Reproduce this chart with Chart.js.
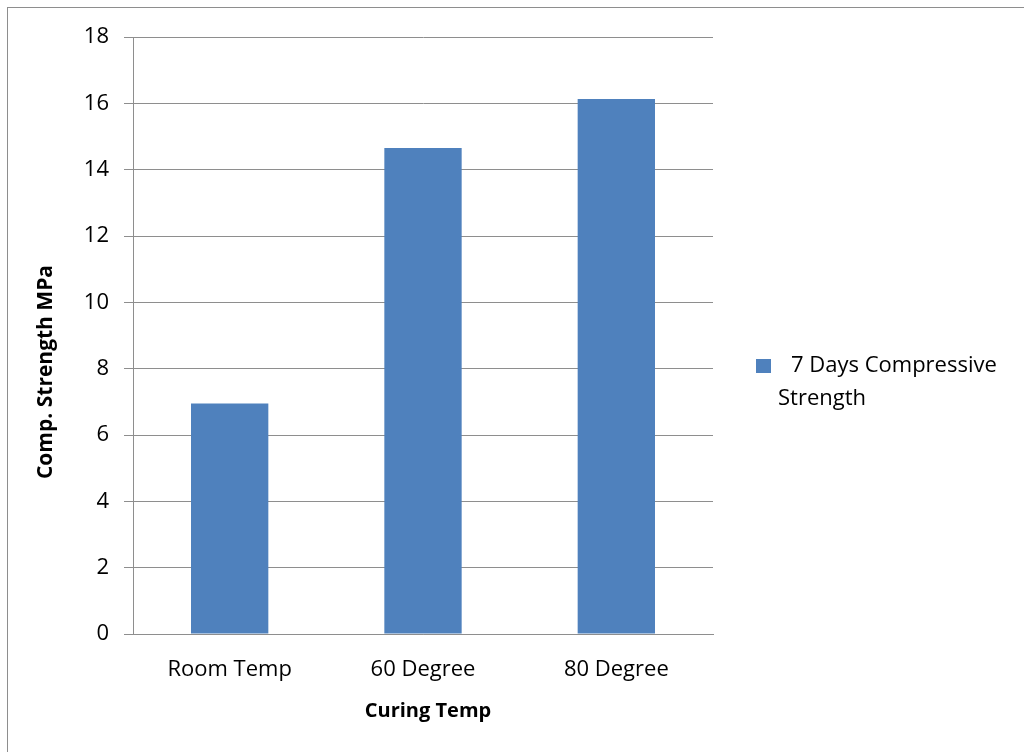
<!DOCTYPE html>
<html>
<head>
<meta charset="utf-8">
<script src="https://cdn.jsdelivr.net/npm/chart.js@4.4.0/dist/chart.umd.min.js"></script>
<style>
  html, body { margin: 0; padding: 0; background: #fff; }
  #wrap { width: 1024px; height: 752px; }
</style>
</head>
<body>
<div id="wrap"><canvas id="chart" width="1024" height="752"></canvas></div>
<script>
// data
const categories = ['Room Temp', '60 Degree', '80 Degree'];
const strength7d = [6.95, 14.65, 16.13];
const seriesLabel = '7 Days Compressive Strength';
const yTitle = 'Comp. Strength MPa';
const xTitle = 'Curing Temp';

const FONT = '"Open Sans", Lato, sans-serif';
const GRID = '#8e8e8e';

// outer frame + axis titles + wrapped legend
const extras = {
  id: 'extras',
  afterDraw(chart) {
    const ctx = chart.ctx;
    ctx.save();
    ctx.strokeStyle = GRID;
    ctx.lineWidth = 1;
    ctx.strokeRect(7.5, 7.5, 1040, 800);

    ctx.fillStyle = '#000';
    ctx.textAlign = 'center';
    ctx.textBaseline = 'middle';
    ctx.save();
    ctx.font = 'bold 21px ' + FONT;
    ctx.translate(46, 372);
    ctx.rotate(-Math.PI / 2);
    ctx.fillText(yTitle, 0, 0);
    ctx.restore();
    ctx.font = 'bold 20px ' + FONT;
    ctx.fillText(xTitle, 428, 711);

    // legend
    const ds = chart.data.datasets[0];
    ctx.fillStyle = ds.backgroundColor;
    ctx.fillRect(756, 359, 15, 14);
    ctx.fillStyle = '#000';
    ctx.font = '22px ' + FONT;
    ctx.textAlign = 'left';
    ctx.fillText('7 Days Compressive', 791, 366);
    ctx.fillText('Strength', 778, 399);
    ctx.restore();
  }
};

new Chart(document.getElementById('chart'), {
  type: 'bar',
  data: {
    labels: categories,
    datasets: [{
      label: seriesLabel,
      data: strength7d,
      backgroundColor: '#4f81bd',
      categoryPercentage: 1,
      barPercentage: 0.4
    }]
  },
  options: {
    responsive: false,
    animation: false,
    layout: { padding: { top: 37, right: 311, left: 0, bottom: 0 } },
    plugins: {
      legend: { display: false },
      tooltip: { enabled: false }
    },
    scales: {
      x: {
        grid: { display: false, drawTicks: false },
        border: { color: GRID, width: 1 },
        ticks: { color: '#000', font: { family: FONT, size: 22 }, padding: 23 },
        afterFit(s) { s.height = 118; }
      },
      y: {
        min: 0,
        max: 18,
        ticks: { stepSize: 2, color: '#000', font: { family: FONT, size: 22 }, padding: 15 },
        grid: { color: GRID, lineWidth: 1, tickLength: 9 },
        border: { color: GRID, width: 1 },
        afterFit(s) { s.width = 133; }
      }
    }
  },
  plugins: [extras]
});
</script>
</body>
</html>
